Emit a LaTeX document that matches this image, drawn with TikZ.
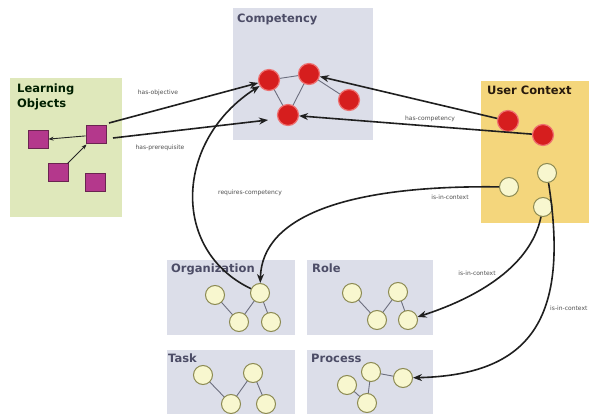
\documentclass[tikz,border=0pt]{standalone}
\usepackage{fontspec}
\setmainfont{DejaVu Sans}
\usetikzlibrary{arrows.meta}
\definecolor{greenbox}{HTML}{DFE8BB}
\definecolor{graybox}{HTML}{DCDEE9}
\definecolor{yellowbox}{HTML}{F4D67C}
\definecolor{sqfill}{HTML}{B4388C}
\definecolor{sqdraw}{HTML}{6A2450}
\definecolor{redfill}{HTML}{D61E1E}
\definecolor{reddraw}{HTML}{EE7070}
\definecolor{ycfill}{HTML}{F8F7CF}
\definecolor{ycdraw}{HTML}{8C8A52}
\definecolor{lnkcol}{HTML}{6C6E7E}
\definecolor{lblcol}{HTML}{505050}
\tikzset{
  box/.style={draw=none},
  title/.style={font=\bfseries\fontsize{11.5}{15}\selectfont, anchor=north west, inner sep=0pt, align=left},
  sq/.style={draw=sqdraw, fill=sqfill, line width=1pt, minimum width=20pt, minimum height=18pt, inner sep=0pt},
  rc/.style={circle, draw=reddraw, fill=redfill, line width=1.2pt, minimum size=21pt, inner sep=0pt},
  yc/.style={circle, draw=ycdraw, fill=ycfill, line width=1pt, minimum size=19pt, inner sep=0pt},
  lnk/.style={draw=lnkcol, line width=0.9pt},
  sarr/.style={draw=black!85, line width=0.9pt, -{Stealth[length=5pt,width=4pt]}},
  arr/.style={draw=black!88, line width=1.6pt, -{Stealth[length=9pt,width=7pt]}},
  lbl/.style={font=\fontsize{6}{7}\selectfont, text=lblcol, inner sep=0pt},
}
\begin{document}
\begin{tikzpicture}[x=1pt,y=-1pt]
\useasboundingbox[fill=white] (0,0) rectangle (589,414);
% boxes
\fill[greenbox] (10,78) rectangle (122,217);
\fill[graybox] (233,8) rectangle (373,140);
\fill[yellowbox] (481,81) rectangle (589,223);
\fill[graybox] (167,260) rectangle (295,335);
\fill[graybox] (307,260) rectangle (433,335);
\fill[graybox] (167,350) rectangle (295,414);
\fill[graybox] (307,350) rectangle (433,414);
% titles
\node[title, text=black!80!green!60!black] (tlo) at (17,84) {Learning\\Objects};
\node[title, text=black!75!blue!40!gray] (tc) at (237,14) {Competency};
\node[title, text=black!80!brown] (tu) at (487,86) {User Context};
\node[title, text=black!75!blue!40!gray] (to) at (171,264) {Organization};
\node[title, text=black!75!blue!40!gray] (tr) at (312,264) {Role};
\node[title, text=black!75!blue!40!gray] (tt) at (168,354) {Task};
\node[title, text=black!75!blue!40!gray] (tp) at (311,354) {Process};
% learning objects
\node[sq] (lo1) at (38,140) {};
\node[sq] (lo2) at (96,135) {};
\node[sq] (lo3) at (58,173) {};
\node[sq] (lo4) at (95,183) {};
\draw[sarr] (lo2) -- (lo1);
\draw[sarr] (lo3) -- (lo2);
% competency
\coordinate (c1p) at (269,80);
\coordinate (c2p) at (309,74);
\coordinate (c3p) at (288,115);
\coordinate (c4p) at (349,100);
\draw[lnk] (c1p) -- (c2p) -- (c3p) -- (c1p);
\draw[lnk] (c2p) -- (c4p);
\node[rc] (c1) at (c1p) {};
\node[rc] (c2) at (c2p) {};
\node[rc] (c3) at (c3p) {};
\node[rc] (c4) at (c4p) {};
% user context
\node[rc] (u1) at (508,121) {};
\node[rc] (u2) at (543,135) {};
\node[yc] (u3) at (509,187) {};
\node[yc] (u4) at (547,173) {};
\node[yc] (u5) at (543,207) {};
% organization
\coordinate (o1p) at (215,295);
\coordinate (o2p) at (260,293);
\coordinate (o3p) at (239,322);
\coordinate (o4p) at (271,322);
\draw[lnk] (o1p) -- (o3p) -- (o2p) -- (o4p);
\node[yc] (o1) at (o1p) {};
\node[yc] (o2) at (o2p) {};
\node[yc] (o3) at (o3p) {};
\node[yc] (o4) at (o4p) {};
% role
\coordinate (r1p) at (352,293);
\coordinate (r2p) at (377,320);
\coordinate (r3p) at (398,292);
\coordinate (r4p) at (408,320);
\draw[lnk] (r1p) -- (r2p) -- (r3p) -- (r4p);
\node[yc] (r1) at (r1p) {};
\node[yc] (r2) at (r2p) {};
\node[yc] (r3) at (r3p) {};
\node[yc] (r4) at (r4p) {};
% task
\coordinate (t1p) at (203,375);
\coordinate (t2p) at (231,404);
\coordinate (t3p) at (253,373);
\coordinate (t4p) at (266,404);
\draw[lnk] (t1p) -- (t2p) -- (t3p) -- (t4p);
\node[yc] (t1) at (t1p) {};
\node[yc] (t2) at (t2p) {};
\node[yc] (t3) at (t3p) {};
\node[yc] (t4) at (t4p) {};
% process
\coordinate (p1p) at (347,385);
\coordinate (p2p) at (371,372);
\coordinate (p3p) at (367,403);
\coordinate (p4p) at (403,378);
\draw[lnk] (p1p) -- (p3p) -- (p2p) -- (p4p);
\node[yc] (p1) at (p1p) {};
\node[yc] (p2) at (p2p) {};
\node[yc] (p3) at (p3p) {};
\node[yc] (p4) at (p4p) {};
% main arrows
\coordinate (hoS) at (109,123);
\coordinate (hpS) at (113,138);
\coordinate (hpE) at (268,120);
\draw[arr] (hoS) -- (c1);
\draw[arr] (hpS) -- (hpE);
\draw[arr] (u1) -- (c2);
\draw[arr] (u2) -- (c3);
\draw[arr] (o2) .. controls (170,250) and (175,140) .. (c1);
\draw[arr] (u3) .. controls (350,185) and (262,215) .. (o2);
\draw[arr] (u5) .. controls (530,270) and (470,300) .. (r4);
\draw[arr] (u4) .. controls (570,320) and (530,375) .. (p4);
% labels
\node[lbl] (l1) at (158,93) {has-objective};
\node[lbl] (l2) at (160,148) {has-prerequisite};
\node[lbl] (l3) at (250,193) {requires-competency};
\node[lbl] (l4) at (430,119) {has-competency};
\node[lbl] (l5) at (450,197) {is-in-context};
\node[lbl] (l6) at (477,273) {is-in-context};
\node[lbl, anchor=west] (l7) at (550,308) {is-in-context};
\end{tikzpicture}
\end{document}
